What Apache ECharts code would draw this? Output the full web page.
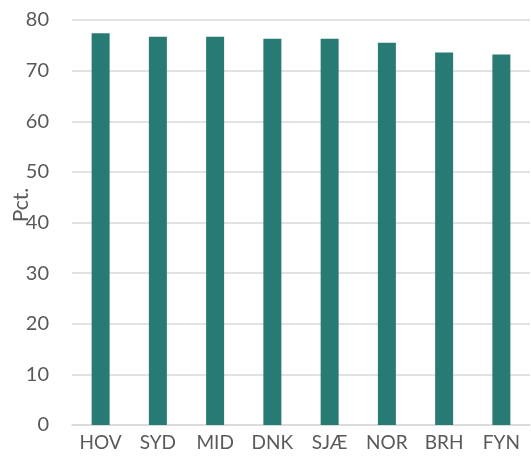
<!DOCTYPE html>
<html>
<head>
<meta charset="utf-8">
<script src="https://cdn.jsdelivr.net/npm/echarts@6/dist/echarts.min.js"></script>
<style>
  html, body { margin: 0; padding: 0; background: #fff; }
  #divChart { width: 531px; height: 466px; }
</style>
</head>
<body>
<div id="divChart"></div>
<script>
var regions = ['HOV', 'SYD', 'MID', 'DNK', 'SJÆ', 'NOR', 'BRH', 'FYN'];
var pctValues = [77.4, 76.7, 76.7, 76.3, 76.3, 75.5, 73.6, 73.2];
var yTicks = [0, 10, 20, 30, 40, 50, 60, 70, 80];

var myChart = echarts.init(document.getElementById('divChart'));
var fontName = 'Lato';
var textColor = '#595959';

var option = {
    animation: false,
    grid: { left: 72, right: 1, top: 20, bottom: 41 },
    xAxis: {
        type: 'category',
        data: regions,
        axisLine: { lineStyle: { color: '#d9d9d9', width: 1.5 } },
        axisTick: { show: false },
        axisLabel: { color: textColor, fontFamily: fontName, fontSize: 19, margin: 8 }
    },
    yAxis: {
        type: 'value',
        min: yTicks[0],
        max: yTicks[yTicks.length - 1],
        interval: 10,
        axisLine: { show: false },
        axisTick: { show: false },
        splitLine: { lineStyle: { color: '#d9d9d9', width: 1.5 } },
        axisLabel: { color: textColor, fontFamily: fontName, fontSize: 20, margin: 23 }
    },
    graphic: [{
        type: 'text',
        x: 21,
        y: 205,
        rotation: Math.PI / 2,
        style: {
            text: 'Pct.',
            fill: textColor,
            font: '21px ' + fontName,
            textAlign: 'center',
            textVerticalAlign: 'middle'
        }
    }],
    series: [{
        type: 'bar',
        data: pctValues,
        barWidth: 18,
        itemStyle: { color: '#287b75' }
    }]
};
myChart.setOption(option);
</script>
</body>
</html>
